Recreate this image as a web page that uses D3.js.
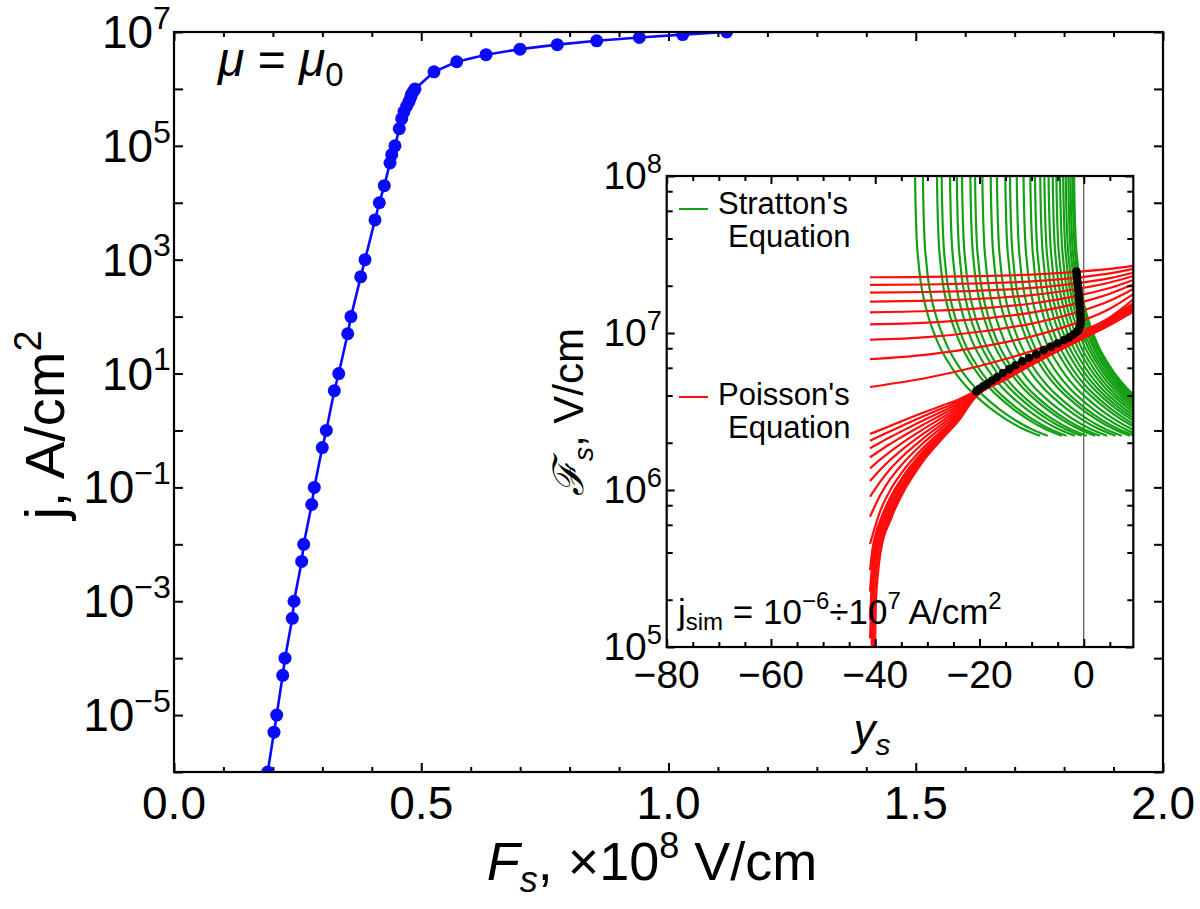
<!DOCTYPE html>
<html><head><meta charset="utf-8">
<script src="https://cdn.jsdelivr.net/npm/d3@7"></script>
<style>
body{margin:0;background:#fff}
text{font-family:"Liberation Sans",Arial,Helvetica,sans-serif;fill:#000}
</style>
</head><body>
<svg id="c" width="1200" height="909"></svg>
<script>
// ---------- main chart data ----------
const mainJ = [1e-6,5e-6,1e-5,5e-5,1e-4,5e-4,1e-3,5e-3,1e-2,5e-2,1e-1,5e-1,1,5,10,50,100,500,1e3,5e3,1e4,2e4,5e4,7e4,1e5,2e5,3e5,4e5,5e5,6e5,7e5,8e5,9e5,1e6,2e6,3e6,4e6,5e6,6e6,7e6,8e6,9e6,1e7];
const mainF = [0.1895,0.2022,0.2077,0.2198,0.2245,0.2392,0.2427,0.2582,0.2623,0.2785,0.2837,0.2999,0.3080,0.3242,0.3331,0.3513,0.3579,0.3776,0.3863,0.4065,0.4152,0.4253,0.4368,0.4403,0.4469,0.4556,0.4605,0.4651,0.4706,0.4752,0.4782,0.4803,0.4838,0.4874,0.5258,0.5717,0.6310,0.6997,0.7751,0.8548,0.9410,1.0287,1.1177];
const mainXMajor = [0,0.5,1,1.5,2];
const mainXLabels = ["0.0","0.5","1.0","1.5","2.0"];
const mainXMinor = [0.1,0.2,0.3,0.4,0.6,0.7,0.8,0.9,1.1,1.2,1.3,1.4,1.6,1.7,1.8,1.9];
const mainYDecades = [-6,-5,-4,-3,-2,-1,0,1,2,3,4,5,6,7];
const mainYLabelExp = [7,5,3,1,-1,-3,-5];

// ---------- inset data ----------
const inXMajor = [-80,-60,-40,-20,0];
const inXLabels = ["\u221280","\u221260","\u221240","\u221220","0"];
const inXMinor = [-75,-70,-65,-55,-50,-45,-35,-30,-25,-15,-10,-5,5];
const inYExp = [5,6,7,8];
const inYMinorMult = [2,4,6,8];

// Stratton's curves: common shape (offset from top crossing, log10 F) and top positions
const greenDelta = [0,0.05,0.15,0.35,0.7,1.1,1.7,2.5,3.5,4.8,6.3,8.0,10.0,12.0,14.5,17.5,21.0,24.0];
const greenLogF  = [8.25,8.0,7.8,7.6,7.45,7.33,7.22,7.115,7.015,6.91,6.82,6.735,6.655,6.59,6.52,6.45,6.385,6.345];
const greenTop = [-32.4,-30.9,-28.2,-27.3,-25.7,-24.4,-23.4,-21.8,-20.9,-19.5,-17.9,-16.7,-15.1,-14.2,-12.9,-11.6,-10.3,-9.4,-8.4,-7.6,-6.8,-6.0,-5.3,-4.6,-4.0,-3.5,-3.0,-2.6,-2.2,-1.9];

// Poisson's curves (log10 F)
const redUpperX = [-41,-30,-20,-10,0,5,9.5];
const redUpperLogF = [
 [7.355,7.357,7.362,7.372,7.393,7.408,7.427],
 [7.306,7.309,7.316,7.329,7.358,7.380,7.408],
 [7.257,7.261,7.270,7.287,7.323,7.350,7.384],
 [7.200,7.206,7.218,7.241,7.288,7.322,7.363],
 [7.132,7.140,7.157,7.188,7.246,7.287,7.338],
 [7.055,7.066,7.090,7.130,7.200,7.250,7.310],
 [6.957,6.974,7.008,7.060,7.145,7.205,7.280],
 [6.833,6.862,6.910,6.978,7.082,7.155,7.248],
 [6.656,6.715,6.790,6.885,7.015,7.100,7.215]
];
const redMidX = [-41,-39,-37,-35,-31,-27,-24,-21,-15,-8,0,5,9.5];
const redMidLogF = [
 [6.357,6.383,6.410,6.437,6.490,6.540,6.577,6.625,6.735,6.865,7.000,7.095,7.190],
 [6.314,6.345,6.376,6.406,6.466,6.522,6.565,6.622,6.733,6.862,6.997,7.091,7.185],
 [6.266,6.303,6.339,6.373,6.440,6.503,6.553,6.618,6.730,6.859,6.994,7.087,7.180],
 [6.208,6.253,6.296,6.336,6.412,6.484,6.540,6.614,6.727,6.856,6.991,7.083,7.175],
 [6.138,6.195,6.248,6.296,6.383,6.464,6.527,6.610,6.724,6.853,6.988,7.079,7.170],
 [6.057,6.130,6.196,6.253,6.353,6.444,6.514,6.606,6.721,6.850,6.985,7.075,7.165],
 [5.957,6.055,6.138,6.207,6.323,6.424,6.501,6.602,6.718,6.847,6.982,7.071,7.160],
 [5.830,5.970,6.075,6.158,6.293,6.405,6.489,6.598,6.715,6.844,6.979,7.067,7.155],
 [5.656,5.870,6.006,6.106,6.262,6.386,6.477,6.594,6.712,6.841,6.976,7.063,7.150]
];
const redSteepX = [
 [-41,-40.5,-40,-39,-37,-35,-31,-27,-24,-21,-15,-8,0,5,9.5],
 [-41,-40.5,-40,-39,-37,-35,-31,-27,-24,-21,-15,-8,0,5,9.5],
 [-41,-40.5,-40,-39,-37,-35,-31,-27,-24,-21,-15,-8,0,5,9.5],
 [-41,-40.5,-40,-39,-37,-35,-31,-27,-24,-21,-15,-8,0,5,9.5],
 [-40.75,-40.5,-40,-39,-37,-35,-31,-27,-24,-21,-15,-8,0,5,9.5],
 [-40.45,-40.2,-39.8,-39,-37,-35,-31,-27,-24,-21,-15,-8,0,5,9.5],
 [-40.1,-39.9,-39.5,-39,-37,-35,-31,-27,-24,-21,-15,-8,0,5,9.5]
];
const redSteepLogF = [
 [5.490,5.630,5.710,5.810,5.960,6.070,6.240,6.372,6.468,6.591,6.710,6.839,6.974,7.062,7.148],
 [5.353,5.560,5.670,5.780,5.935,6.050,6.228,6.364,6.463,6.589,6.709,6.838,6.973,7.060,7.146],
 [5.172,5.480,5.620,5.750,5.910,6.030,6.215,6.356,6.458,6.588,6.708,6.837,6.972,7.058,7.144],
 [5.055,5.420,5.580,5.720,5.890,6.015,6.205,6.350,6.454,6.587,6.707,6.836,6.971,7.056,7.142],
 [4.900,5.300,5.520,5.680,5.865,5.998,6.195,6.344,6.450,6.586,6.706,6.835,6.970,7.054,7.140],
 [4.900,5.300,5.480,5.640,5.840,5.980,6.185,6.338,6.446,6.585,6.705,6.834,6.969,7.052,7.138],
 [4.900,5.250,5.460,5.600,5.815,5.962,6.175,6.332,6.442,6.584,6.704,6.833,6.968,7.050,7.136]
];
// simulated solutions (black points)
const simY = [-20.6,-20.0,-19.3,-18.5,-17.6,-16.6,-15.5,-14.3,-13.1,-11.8,-10.5,-9.1,-7.7,-6.3,-5.0,-3.8,-2.8,-2.0,-1.4,-1.0,-0.75,-0.62,-0.6,-0.63,-0.68,-0.74,-0.8,-0.87,-0.95,-1.02,-1.1,-1.18,-1.26,-1.33,-1.4];
const simLogF = [6.630,6.645,6.660,6.676,6.697,6.720,6.745,6.770,6.795,6.820,6.842,6.865,6.890,6.913,6.935,6.955,6.972,6.990,7.006,7.020,7.038,7.058,7.083,7.110,7.137,7.164,7.190,7.217,7.244,7.270,7.297,7.322,7.347,7.370,7.392];

// ---------- drawing ----------
const svg = d3.select("#c");
const BLUE = "#0a0aff", GREEN = "#14a014", RED = "#ff0d0d";

function sup(t, base, expo, fs){
  t.append("tspan").text(base);
  t.append("tspan").attr("font-size", fs*0.7).attr("dy", -fs*0.42).text(expo);
}

const mX = d3.scaleLinear().domain([0,2]).range([174,1163]);
const mY = d3.scaleLog().domain([1e-6,1e7]).range([772,32]);

svg.append("defs").append("clipPath").attr("id","mclip")
  .append("rect").attr("x",174).attr("y",32).attr("width",989).attr("height",740);

function axisG(axis, tx, ty){
  const g = svg.append("g").attr("transform",`translate(${tx},${ty})`).call(axis);
  g.select(".domain").remove();
  g.selectAll(".tick line").attr("stroke","#000").attr("stroke-width",2);
  g.selectAll(".tick text").remove();
  return g;
}
axisG(d3.axisBottom(mX).tickValues(mainXMajor).tickSizeInner(-9).tickSizeOuter(0), 0, 772);
axisG(d3.axisBottom(mX).tickValues(mainXMinor).tickSizeInner(-5).tickSizeOuter(0), 0, 772);
axisG(d3.axisTop(mX).tickValues(mainXMajor).tickSizeInner(-9).tickSizeOuter(0), 0, 32);
axisG(d3.axisTop(mX).tickValues(mainXMinor).tickSizeInner(-5).tickSizeOuter(0), 0, 32);
const decVals = mainYDecades.map(e=>Math.pow(10,e));
axisG(d3.axisLeft(mY).tickValues(decVals).tickSizeInner(-9).tickSizeOuter(0), 174, 0);
axisG(d3.axisRight(mY).tickValues(decVals).tickSizeInner(-9).tickSizeOuter(0), 1163, 0);

const mg = svg.append("g").attr("clip-path","url(#mclip)");
const mainPts = mainF.map((f,i)=>[f, mainJ[i]]);
mg.append("path").datum(mainPts)
  .attr("d", d3.line().x(d=>mX(d[0])).y(d=>mY(d[1])))
  .attr("fill","none").attr("stroke",BLUE).attr("stroke-width",2.6);
mg.selectAll("circle").data(mainPts).join("circle")
  .attr("cx",d=>mX(d[0])).attr("cy",d=>mY(d[1])).attr("r",6.5).attr("fill",BLUE);

svg.append("rect").attr("x",174).attr("y",32).attr("width",989).attr("height",740)
  .attr("fill","none").attr("stroke","#000").attr("stroke-width",2.2);

const LFS = 46;
mainXMajor.forEach((v,i)=>{
  svg.append("text").attr("x",mX(v)).attr("y",819).attr("text-anchor","middle")
    .attr("font-size",LFS).text(mainXLabels[i]);
});
mainYLabelExp.forEach(e=>{
  const t = svg.append("text").attr("x",171).attr("y",mY(Math.pow(10,e))+16)
    .attr("text-anchor","end").attr("font-size",LFS);
  sup(t,"10", e<0 ? "\u2212"+(-e) : String(e), LFS);
});

{
  const t = svg.append("text").attr("x",652).attr("y",880).attr("text-anchor","middle").attr("font-size",54);
  t.append("tspan").attr("font-style","italic").text("F");
  t.append("tspan").attr("font-style","italic").attr("font-size",36).attr("dy",12).text("s");
  t.append("tspan").attr("dy",-12).text(", \u00d710");
  t.append("tspan").attr("font-size",36).attr("dy",-22).text("8");
  t.append("tspan").attr("dy",22).text(" V/cm");
}
{
  const t = svg.append("text").attr("transform","translate(64,425) rotate(-90)")
    .attr("text-anchor","middle").attr("font-size",56);
  t.append("tspan").text("j, A/cm");
  t.append("tspan").attr("font-size",38).attr("dy",-23).text("2");
}
{
  const t = svg.append("text").attr("x",218).attr("y",76).attr("font-size",48);
  t.append("tspan").attr("font-style","italic").text("\u03bc");
  t.append("tspan").text(" = ");
  t.append("tspan").attr("font-style","italic").text("\u03bc");
  t.append("tspan").attr("font-size",33).attr("dy",10).text("0");
}

// ---------- inset ----------
const L=666.7, R=1133.3, T=176, B=647;
const iX = d3.scaleLinear().domain([-80,9.5]).range([L,R]);
const iY = d3.scaleLog().domain([1e5,1e8]).range([B,T]);
svg.append("rect").attr("x",L).attr("y",T).attr("width",R-L).attr("height",B-T).attr("fill","#fff");
svg.select("defs").append("clipPath").attr("id","iclip")
  .append("rect").attr("x",L).attr("y",T).attr("width",R-L).attr("height",B-T);

const ig = svg.append("g").attr("clip-path","url(#iclip)");
const lineIn = d3.line().x(d=>iX(d[0])).y(d=>iY(Math.pow(10,d[1]))).curve(d3.curveMonotoneX);

ig.append("line").attr("x1",iX(0)).attr("x2",iX(0)).attr("y1",T).attr("y2",B)
  .attr("stroke","#333").attr("stroke-width",1);

greenTop.forEach(x0=>{
  const pts = greenDelta.map((d,i)=>[x0+d, greenLogF[i]]);
  ig.append("path").attr("d",lineIn(pts)).attr("fill","none").attr("stroke",GREEN).attr("stroke-width",2.2);
});
redUpperLogF.forEach(row=>{
  ig.append("path").attr("d",lineIn(row.map((v,i)=>[redUpperX[i],v])))
    .attr("fill","none").attr("stroke",RED).attr("stroke-width",2.2);
});
redMidLogF.forEach(row=>{
  ig.append("path").attr("d",lineIn(row.map((v,i)=>[redMidX[i],v])))
    .attr("fill","none").attr("stroke",RED).attr("stroke-width",2.2);
});
redSteepLogF.forEach((row,k)=>{
  ig.append("path").attr("d",lineIn(row.map((v,i)=>[redSteepX[k][i],v])))
    .attr("fill","none").attr("stroke",RED).attr("stroke-width",2.2);
});
const simPts = simY.map((y,i)=>[y, simLogF[i]]);
ig.append("path").attr("d",d3.line().x(d=>iX(d[0])).y(d=>iY(Math.pow(10,d[1])))(simPts))
  .attr("fill","none").attr("stroke","#000").attr("stroke-width",2);
ig.selectAll("circle.sim").data(simPts).join("circle").attr("class","sim")
  .attr("cx",d=>iX(d[0])).attr("cy",d=>iY(Math.pow(10,d[1]))).attr("r",4.3).attr("fill","#000");

function axisI(axis, tx, ty){
  const g = svg.append("g").attr("transform",`translate(${tx},${ty})`).call(axis);
  g.select(".domain").remove();
  g.selectAll(".tick line").attr("stroke","#000").attr("stroke-width",2);
  g.selectAll(".tick text").remove();
}
const iYMajor = inYExp.map(e=>Math.pow(10,e));
const iYMinor = [];
inYExp.slice(0,3).forEach(e=>inYMinorMult.forEach(m=>iYMinor.push(m*Math.pow(10,e))));
axisI(d3.axisBottom(iX).tickValues(inXMajor).tickSizeInner(-8).tickSizeOuter(0),0,B);
axisI(d3.axisBottom(iX).tickValues(inXMinor).tickSizeInner(-5).tickSizeOuter(0),0,B);
axisI(d3.axisTop(iX).tickValues(inXMajor).tickSizeInner(-8).tickSizeOuter(0),0,T);
axisI(d3.axisTop(iX).tickValues(inXMinor).tickSizeInner(-5).tickSizeOuter(0),0,T);
axisI(d3.axisLeft(iY).tickValues(iYMajor).tickSizeInner(-8).tickSizeOuter(0),L,0);
axisI(d3.axisLeft(iY).tickValues(iYMinor).tickSizeInner(-6).tickSizeOuter(0),L,0);
axisI(d3.axisRight(iY).tickValues(iYMajor).tickSizeInner(-8).tickSizeOuter(0),R,0);
axisI(d3.axisRight(iY).tickValues(iYMinor).tickSizeInner(-6).tickSizeOuter(0),R,0);
svg.append("rect").attr("x",L).attr("y",T).attr("width",R-L).attr("height",B-T)
  .attr("fill","none").attr("stroke","#000").attr("stroke-width",2.2);

const IFS = 39;
inXMajor.forEach((v,i)=>{
  svg.append("text").attr("x",iX(v)).attr("y",688).attr("text-anchor","middle")
    .attr("font-size",IFS).text(inXLabels[i]);
});
inYExp.forEach(e=>{
  const t = svg.append("text").attr("x",662).attr("y",iY(Math.pow(10,e))+13)
    .attr("text-anchor","end").attr("font-size",IFS);
  sup(t,"10",String(e),IFS);
});
{
  const t = svg.append("text").attr("x",872).attr("y",745).attr("text-anchor","middle").attr("font-size",44);
  t.append("tspan").attr("font-style","italic").text("y");
  t.append("tspan").attr("font-style","italic").attr("font-size",30).attr("dy",10).text("s");
}
{
  const t = svg.append("text").attr("transform","translate(583,412) rotate(-90)")
    .attr("text-anchor","middle").attr("font-size",42);
  t.append("tspan").attr("font-style","italic").text("\u2131");
  t.append("tspan").attr("font-style","italic").attr("font-size",28).attr("dy",10).text("s");
  t.append("tspan").attr("dy",-10).text(", V/cm");
}
svg.append("line").attr("x1",679).attr("x2",708).attr("y1",209).attr("y2",209).attr("stroke",GREEN).attr("stroke-width",2);
svg.append("text").attr("x",718).attr("y",214).attr("font-size",31).text("Stratton's");
svg.append("text").attr("x",728).attr("y",247).attr("font-size",31).text("Equation");
svg.append("line").attr("x1",679).attr("x2",708).attr("y1",397).attr("y2",397).attr("stroke",RED).attr("stroke-width",2);
svg.append("text").attr("x",718).attr("y",405).attr("font-size",31).text("Poisson's");
svg.append("text").attr("x",728).attr("y",438).attr("font-size",31).text("Equation");
{
  const t = svg.append("text").attr("x",678).attr("y",624).attr("font-size",35);
  t.append("tspan").text("j");
  t.append("tspan").attr("font-size",24).attr("dy",6).text("sim");
  t.append("tspan").attr("dy",-6).text(" = 10");
  t.append("tspan").attr("font-size",24).attr("dy",-15).text("\u22126");
  t.append("tspan").attr("dy",15).text("\u00f710");
  t.append("tspan").attr("font-size",24).attr("dy",-15).text("7");
  t.append("tspan").attr("dy",15).text(" A/cm");
  t.append("tspan").attr("font-size",24).attr("dy",-15).text("2");
}
</script>
</body></html>
